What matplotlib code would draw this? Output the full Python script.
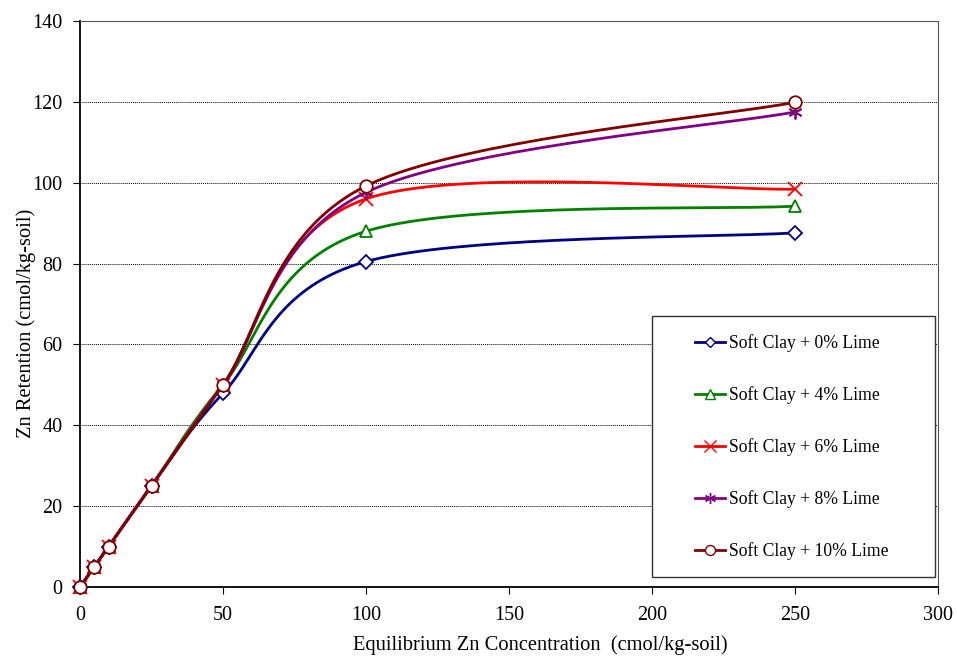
import numpy as np
import matplotlib
matplotlib.use('Agg')
import matplotlib.pyplot as plt
from matplotlib.patches import Rectangle

plt.rcParams['font.family'] = ['Liberation Serif', 'DejaVu Serif']

conc = [0, 5, 10, 25, 50, 100, 250]
lime_0 = [0, 5, 10, 25, 47.9, 80.5, 87.6]
lime_4 = [0, 5, 10, 25, 50, 88.0, 94.2]
lime_6 = [0, 5, 10, 25, 50, 96.0, 98.4]
lime_8 = [0, 5, 10, 25, 50, 97.6, 117.5]
lime_10 = [0, 5, 10, 25, 50, 99.2, 119.9]

labels = ['Soft Clay + 0% Lime', 'Soft Clay + 4% Lime', 'Soft Clay + 6% Lime',
          'Soft Clay + 8% Lime', 'Soft Clay + 10% Lime']
colors = ['#000080', '#008000', '#FF0000', '#800080', '#800000']
markers = ['D', '^', 'x', (6, 2, 0), 'o']
msizes = [7, 9, 10, 10, 9]


def smooth(x, y, n=40):
    # excel-like smoothed line: cubic bezier with catmull-rom control points
    p = np.column_stack([x, y]).astype(float)
    out = [p[0]]
    t = np.linspace(0, 1, n)[1:, None]
    for i in range(len(p) - 1):
        p0 = p[i - 1] if i > 0 else p[i]
        p3 = p[i + 2] if i + 2 < len(p) else p[i + 1]
        c1 = p[i] + (p[i + 1] - p0) / 6
        c2 = p[i + 1] - (p3 - p[i]) / 6
        seg = ((1 - t) ** 3) * p[i] + 3 * ((1 - t) ** 2) * t * c1 \
            + 3 * (1 - t) * t ** 2 * c2 + t ** 3 * p[i + 1]
        out.extend(seg)
    out = np.array(out)
    return out[:, 0], out[:, 1]


fig = plt.figure(figsize=[9.57, 6.58], dpi=100)
ax = fig.add_axes([80 / 957, 1 - 587 / 658, 858 / 957, 566 / 658])

series = [lime_0, lime_4, lime_6, lime_8, lime_10]
for k, vals in enumerate(series):
    sx, sy = smooth(conc, vals)
    ax.plot(sx, sy, color=colors[k], lw=2.0, zorder=3 + k)
    mfc = 'white' if markers[k] in ('D', '^', 'o') else colors[k]
    ax.plot(conc, vals, ls='none', marker=markers[k], ms=msizes[k],
            mfc=mfc, mec=colors[k], mew=1.3, zorder=3 + k, clip_on=False)

ax.set_xlim(0, 300)
ax.set_ylim(0, 140)
ax.set_xticks(range(0, 301, 50))
ax.set_yticks(range(0, 141, 20))
ax.yaxis.grid(True, ls=(0, (1, 1)), color='black', lw=0.7)
ax.set_axisbelow(True)
ax.tick_params(direction='out', length=5, width=0.8, labelsize=14.5, colors='black')
ax.tick_params(axis='y', pad=7.5)
ax.tick_params(axis='x', pad=9)
for s in ['left', 'bottom']:
    ax.spines[s].set_linewidth(1.3)
for s in ['top', 'right']:
    ax.spines[s].set_linewidth(0.8)
    ax.spines[s].set_color('#555555')

ax.set_xlabel('Equilibrium Zn Concentration  (cmol/kg-soil)', fontsize=14.8)
ax.set_ylabel('Zn Retention (cmol/kg-soil)', fontsize=14.8)
ax.xaxis.set_label_coords(0.536, -0.085)
ax.yaxis.set_label_coords(-0.0513, 0.466)

# legend box
ax.add_patch(Rectangle((572 / 858, 10 / 566), 283 / 858, 261 / 566, transform=ax.transAxes,
                       facecolor='white', edgecolor='#333333', lw=1.0, zorder=20))
handles = []
for k in range(5):
    mfc = 'white' if markers[k] in ('D', '^', 'o') else colors[k]
    h, = ax.plot([], [], color=colors[k], lw=2.0, marker=markers[k], ms=msizes[k] * 0.8,
                 mfc=mfc, mec=colors[k], mew=1.0)
    handles.append(h)
leg = ax.legend(handles, labels, loc='upper left', bbox_to_anchor=(615 / 858, 253 / 566),
                frameon=False, fontsize=12.7, labelspacing=1.94, handlelength=1.7,
                handletextpad=0.2, borderpad=0, borderaxespad=0)
leg.set_zorder(21)

fig.savefig('out.png', dpi=100)
